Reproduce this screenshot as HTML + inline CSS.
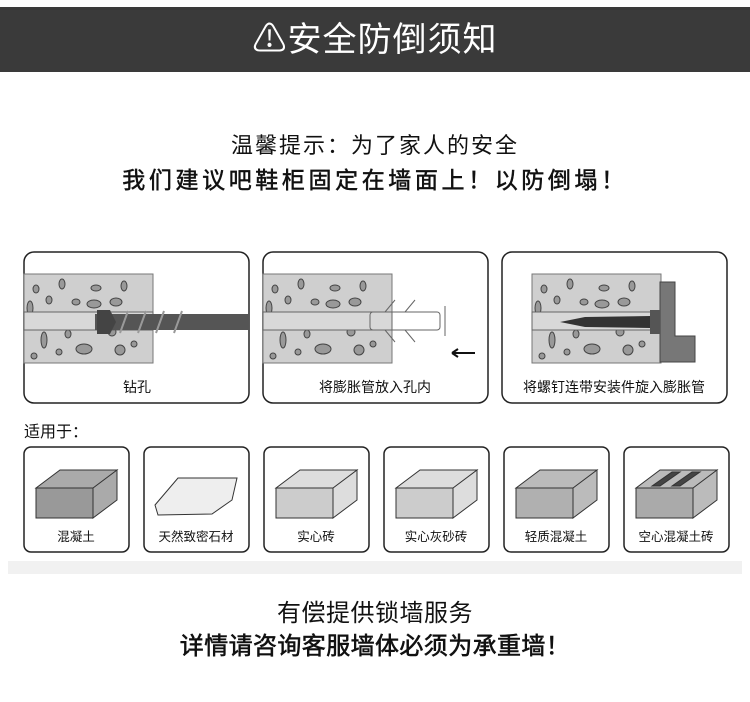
<!DOCTYPE html>
<html><head><meta charset="utf-8"><style>
body{margin:0;width:750px;height:702px;background:#fff;overflow:hidden;position:relative;font-family:"Liberation Sans","Noto Sans CJK SC",sans-serif}
.t{position:absolute;left:0;width:750px;text-align:center;color:#111;white-space:nowrap}
</style></head><body>
<div style="position:absolute;left:0;top:7px;width:750px;height:65px;background:#3a3a3a"></div>
<div class="t" style="top:18px;font-size:34px;color:#fff;letter-spacing:1px;line-height:44px">⚠安全防倒须知</div>
<div class="t" style="top:131px;font-size:22px;letter-spacing:2px;line-height:30px">温馨提示：为了家人的安全</div>
<div class="t" style="top:165px;font-size:23px;letter-spacing:3.6px;line-height:30px;-webkit-text-stroke:0.5px #111">我们建议吧鞋柜固定在墙面上！以防倒塌！</div>
<svg style="position:absolute;left:0;top:0" width="750" height="702">
<defs>
<g id="blk">
<rect x="0" y="0" width="129" height="89" fill="#cfcfcf" stroke="#777"/>
<g fill="#999" stroke="#444" stroke-width="1">
<ellipse cx="12" cy="15" rx="3" ry="4"/><ellipse cx="38" cy="10" rx="3" ry="5"/><ellipse cx="72" cy="14" rx="5" ry="3"/><ellipse cx="100" cy="12" rx="3" ry="5"/><ellipse cx="25" cy="26" rx="3" ry="4"/><ellipse cx="52" cy="28" rx="4" ry="3"/><ellipse cx="70" cy="30" rx="7" ry="4"/><ellipse cx="92" cy="28" rx="6" ry="4"/><ellipse cx="6" cy="34" rx="3" ry="7"/>
<ellipse cx="20" cy="66" rx="3" ry="8"/><ellipse cx="44" cy="60" rx="3" ry="4"/><ellipse cx="60" cy="75" rx="8" ry="5"/><ellipse cx="88" cy="58" rx="4" ry="4"/><ellipse cx="96" cy="76" rx="5" ry="5"/><ellipse cx="10" cy="82" rx="3" ry="3"/><ellipse cx="35" cy="78" rx="3" ry="3"/><ellipse cx="110" cy="70" rx="3" ry="3"/>
</g>
<rect x="0" y="38" width="129" height="18" fill="#d8d8d8" stroke="#666"/>
</g>
<g id="small">
<rect x="0" y="0" width="105" height="105" rx="7" fill="#fff" stroke="#222" stroke-width="1.5"/>
</g>
</defs>
<g stroke="#222" stroke-width="1.5" fill="#fff">
<rect x="24" y="252" width="225" height="151" rx="10"/>
<rect x="263" y="252" width="225" height="151" rx="10"/>
<rect x="502" y="252" width="225" height="151" rx="10"/>
</g>
<use href="#blk" x="24" y="274"/>
<use href="#blk" x="263" y="274"/>
<use href="#blk" x="532" y="274"/>
<rect x="95" y="314" width="154" height="16" fill="#555"/>
<path d="M97 310 L110 310 L116 322 L110 334 L97 334 Z" fill="#444"/>
<g stroke="#999" stroke-width="2"><line x1="120" y1="333" x2="128" y2="311"/><line x1="138" y1="333" x2="146" y2="311"/><line x1="156" y1="333" x2="164" y2="311"/><line x1="174" y1="333" x2="182" y2="311"/></g>
<g fill="none" stroke="#666"><rect x="370" y="312" width="70" height="18" rx="3"/><path d="M385 312 L395 300 M405 312 L415 300 M385 330 L395 342 M405 330 L415 342 M445 306 L445 336"/></g>
<path d="M452 353 L475 353 M452 353 L458 349 M452 353 L458 357" stroke="#111" stroke-width="2" fill="none"/>
<path d="M660 282 L675 282 L675 336 L695 336 L695 362 L660 362 Z" fill="#777" stroke="#444"/>
<path d="M560 322 L585 317 L650 316 L650 328 L585 327 Z" fill="#333"/>
<rect x="650" y="310" width="10" height="24" fill="#555"/>
<g font-size="14" fill="#111" text-anchor="middle">
<text x="137" y="392">钻孔</text><text x="375" y="392">将膨胀管放入孔内</text><text x="614" y="392">将螺钉连带安装件旋入膨胀管</text>
</g>
<text x="24" y="437" font-size="16" fill="#111">适用于：</text>
<g>
<use href="#small" x="24" y="447"/><use href="#small" x="144" y="447"/><use href="#small" x="264" y="447"/><use href="#small" x="384" y="447"/><use href="#small" x="504" y="447"/><use href="#small" x="624" y="447"/>
</g>
<g stroke="#333" stroke-width="1">
<path d="M36 488 L60 470 L117 470 L93 488 Z M93 488 L117 470 L117 500 L93 518 Z" fill="#aaa"/><rect x="36" y="488" width="57" height="30" fill="#999"/>
<path d="M155 505 L178 478 L237 478 L232 500 L212 514 L158 515 Z" fill="#eee"/>
<path d="M276 488 L300 470 L357 470 L333 488 Z M333 488 L357 470 L357 500 L333 518 Z" fill="#ddd"/><rect x="276" y="488" width="57" height="30" fill="#ccc"/>
<path d="M396 488 L420 470 L477 470 L453 488 Z M453 488 L477 470 L477 500 L453 518 Z" fill="#ddd"/><rect x="396" y="488" width="57" height="30" fill="#ccc"/>
<path d="M516 488 L540 470 L597 470 L573 488 Z M573 488 L597 470 L597 500 L573 518 Z" fill="#bbb"/><rect x="516" y="488" width="57" height="30" fill="#b0b0b0"/>
<path d="M636 488 L660 470 L717 470 L693 488 Z M693 488 L717 470 L717 500 L693 518 Z" fill="#bbb"/><rect x="636" y="488" width="57" height="30" fill="#aaa"/>
<path d="M652 486 L672 472 L680 472 L660 486 Z M672 486 L692 472 L700 472 L680 486 Z" fill="#444"/>
</g>
<g font-size="12.5" fill="#111" text-anchor="middle">
<text x="76" y="541">混凝土</text><text x="196" y="541">天然致密石材</text><text x="316" y="541">实心砖</text><text x="436" y="541">实心灰砂砖</text><text x="556" y="541">轻质混凝土</text><text x="676" y="541">空心混凝土砖</text>
</g>
<rect x="8" y="561" width="734" height="13" fill="#f1f1f1"/>
</svg>
<div class="t" style="top:598px;font-size:24px;letter-spacing:0.5px;line-height:32px">有偿提供锁墙服务</div>
<div class="t" style="top:631px;font-size:24px;letter-spacing:0.4px;line-height:32px;-webkit-text-stroke:0.6px #111">详情请咨询客服墙体必须为承重墙！</div>
</body></html>
